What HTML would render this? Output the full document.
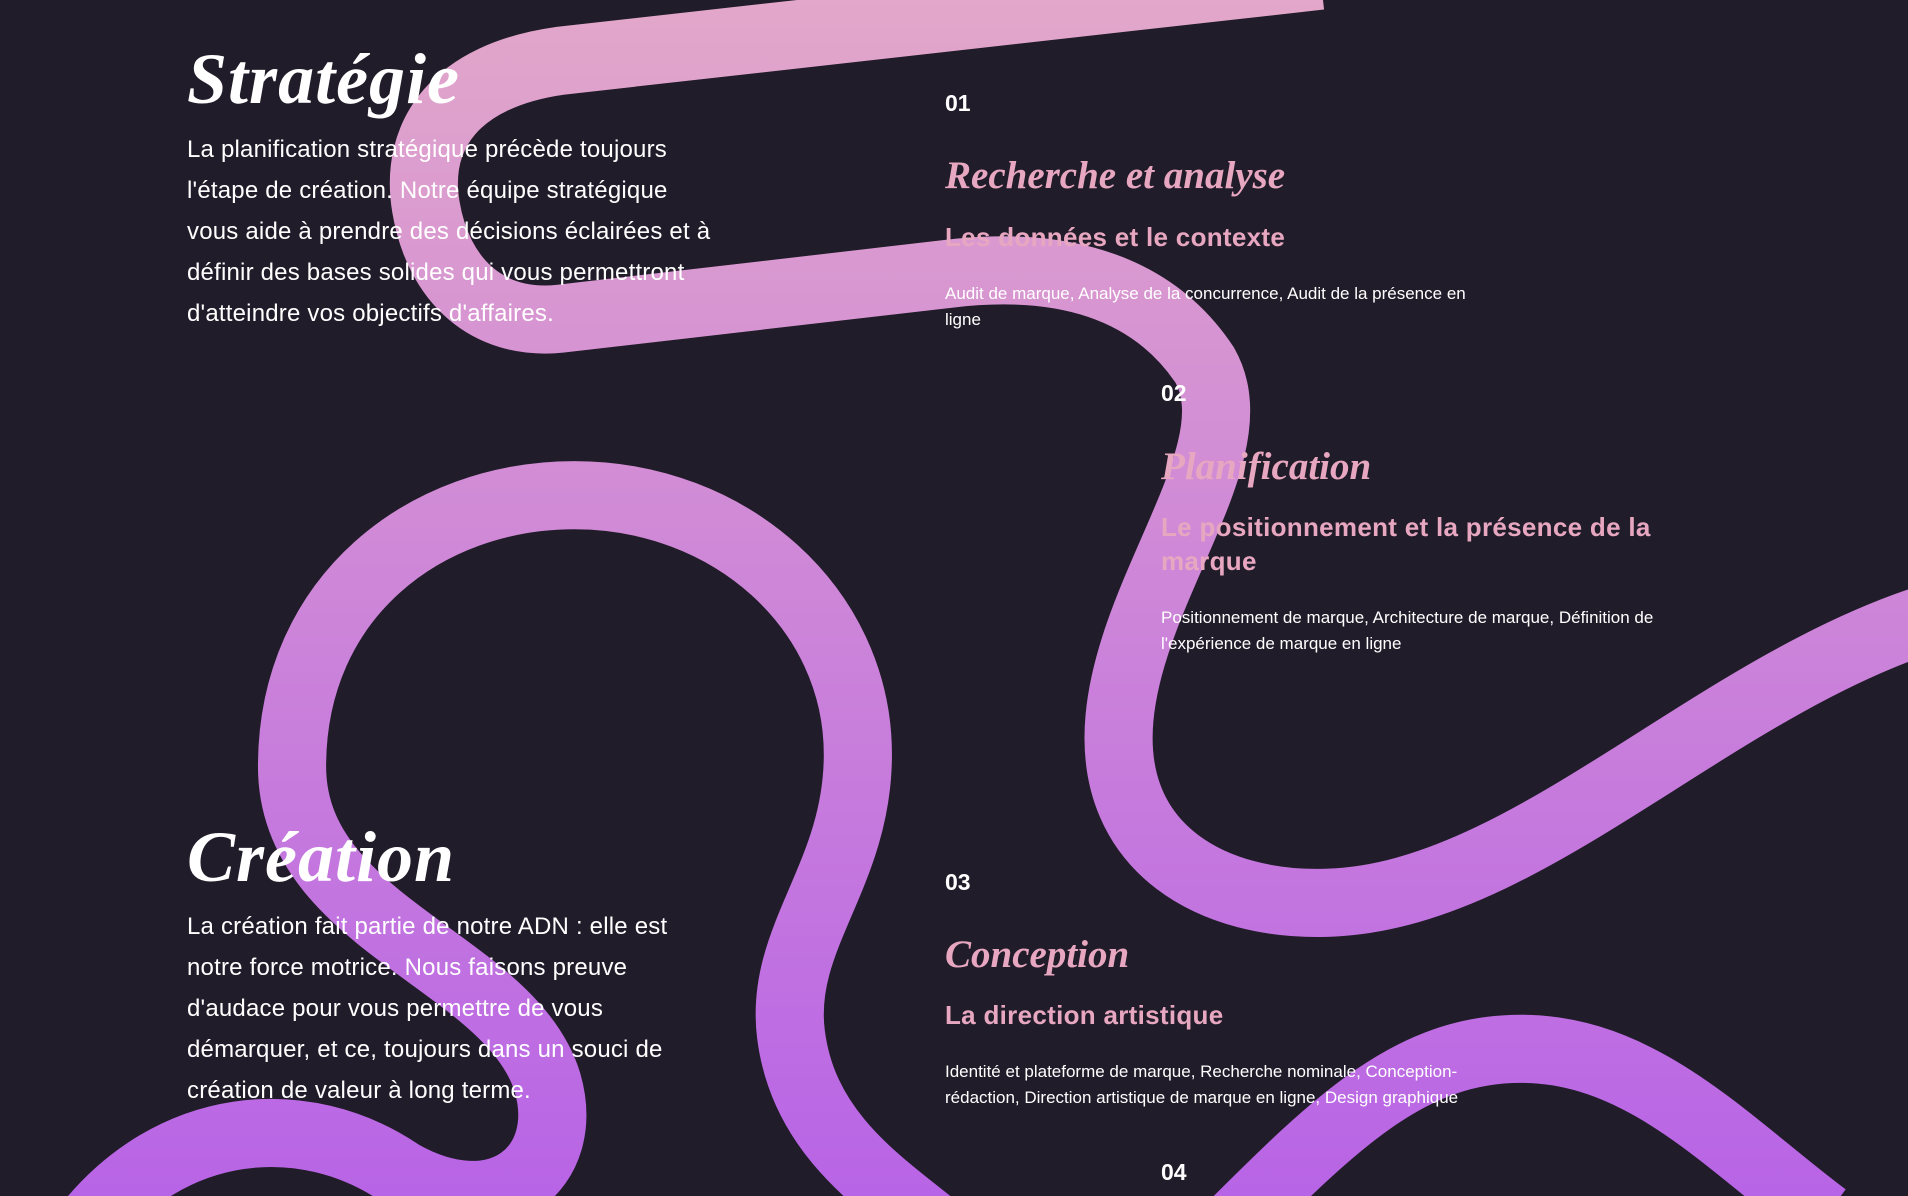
<!DOCTYPE html>
<html><head><meta charset="utf-8"><style>
html,body{margin:0;padding:0;background:#211c29;}
#page{position:relative;width:1908px;height:1196px;overflow:hidden;background:#211c29;font-family:"Liberation Sans",sans-serif;}
svg.bg{position:absolute;left:0;top:0;}
.t{position:absolute;white-space:nowrap;margin:0;}
.h1{font-family:"Liberation Serif",serif;font-weight:bold;font-style:italic;color:#fff;font-size:72px;letter-spacing:1px;}
.p{color:#fff;font-size:24px;line-height:41px;letter-spacing:0.2px;}
.num{color:#fff;font-weight:bold;font-size:23px;}
.h2{font-family:"Liberation Serif",serif;font-weight:bold;font-style:italic;color:#e8a7c0;font-size:39px;}
.h3{color:#e8a7c0;font-weight:bold;font-size:26px;line-height:34px;letter-spacing:0.3px;}
.sm{color:#fff;font-size:17px;line-height:26px;}
</style></head><body>
<div id="page">
<svg class="bg" width="1908" height="1196" viewBox="0 0 1568 983" preserveAspectRatio="none">
<defs>
<linearGradient id="g2" x1="0" y1="0" x2="0" y2="983" gradientUnits="userSpaceOnUse">
<stop offset="0" stop-color="#e2a7ca"/><stop offset="1" stop-color="#b864e6"/></linearGradient></defs>
<g fill="none" stroke="url(#g2)" stroke-width="56" stroke-linecap="butt">
<path d="M 1085 -20 L 460 50 C 375 62, 340 110, 350 170 C 360 230, 400 268, 460 262 L 780 225 C 880 213, 950 240, 990 300 C 1030 370, 930 480, 920 590 C 910 700, 1000 745, 1090 742 C 1250 738, 1400 570, 1580 510"/>
<path d="M 70 1010 C 140 920, 250 910, 330 965 C 410 1010, 470 960, 450 890 C 420 790, 240 760, 240 630 C 240 490, 350 407, 472 407 C 600 407, 705 500, 705 620 C 705 720, 640 770, 650 850 C 660 930, 720 970, 770 1010"/>
<path d="M 1010 1010 C 1100 920, 1160 862, 1250 862 C 1350 862, 1420 940, 1500 1000"/>
</g>
</svg>

<div class="t h1" style="left:187px;top:38px;">Stratégie</div>
<div class="t p" style="left:187px;top:129px;">La planification stratégique précède toujours<br>l'étape de création. Notre équipe stratégique<br>vous aide à prendre des décisions éclairées et à<br>définir des bases solides qui vous permettront<br>d'atteindre vos objectifs d'affaires.</div>

<div class="t num" style="left:945px;top:90px;">01</div>
<div class="t h2" style="left:945px;top:153px;">Recherche et analyse</div>
<div class="t h3" style="left:945px;top:220px;">Les données et le contexte</div>
<div class="t sm" style="left:945px;top:281px;">Audit de marque, Analyse de la concurrence, Audit de la présence en<br>ligne</div>

<div class="t num" style="left:1161px;top:380px;">02</div>
<div class="t h2" style="left:1161px;top:444px;">Planification</div>
<div class="t h3" style="left:1161px;top:510px;">Le positionnement et la présence de la<br>marque</div>
<div class="t sm" style="left:1161px;top:605px;">Positionnement de marque, Architecture de marque, Définition de<br>l'expérience de marque en ligne</div>

<div class="t h1" style="left:187px;top:816px;">Création</div>
<div class="t p" style="left:187px;top:906px;">La création fait partie de notre ADN : elle est<br>notre force motrice. Nous faisons preuve<br>d'audace pour vous permettre de vous<br>démarquer, et ce, toujours dans un souci de<br>création de valeur à long terme.</div>

<div class="t num" style="left:945px;top:869px;">03</div>
<div class="t h2" style="left:945px;top:932px;">Conception</div>
<div class="t h3" style="left:945px;top:998px;">La direction artistique</div>
<div class="t sm" style="left:945px;top:1059px;">Identité et plateforme de marque, Recherche nominale, Conception-<br>rédaction, Direction artistique de marque en ligne, Design graphique</div>

<div class="t num" style="left:1161px;top:1159px;">04</div>
</div>
</body></html>
